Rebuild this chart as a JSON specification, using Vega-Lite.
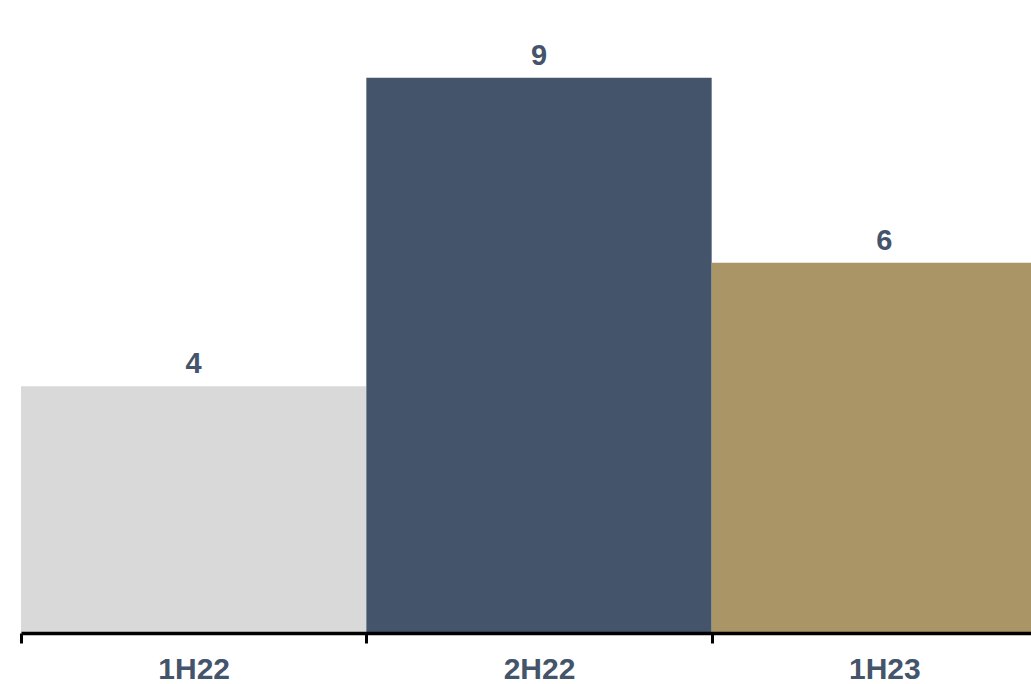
{
  "$schema": "https://vega.github.io/schema/vega-lite/v6.json",
  "autosize": {"type": "none"},
  "padding": {"left": 21, "top": 16, "right": 0, "bottom": 51},
  "width": 1036,
  "height": 617,
  "background": "white",
  "config": {
    "view": {"stroke": null},
    "font": "Liberation Sans"
  },
  "data": {
    "values": [
      {"period": "1H22", "value": 4, "color": "#d9d9d9"},
      {"period": "2H22", "value": 9, "color": "#44546a"},
      {"period": "1H23", "value": 6, "color": "#aa9566"}
    ]
  },
  "encoding": {
    "x": {
      "field": "period",
      "type": "nominal",
      "sort": null,
      "scale": {"paddingInner": 0, "paddingOuter": 0},
      "axis": {
        "title": null,
        "zindex": 1,
        "labelAngle": 0,
        "labelFont": "Liberation Sans",
        "labelFontSize": 30,
        "labelFontWeight": "bold",
        "labelColor": "#44546a",
        "labelPadding": 11,
        "domainColor": "#000000",
        "domainWidth": 3.5,
        "tickColor": "#000000",
        "tickWidth": 3,
        "tickSize": 10,
        "tickBand": "extent",
        "grid": false
      }
    },
    "y": {
      "field": "value",
      "type": "quantitative",
      "scale": {"domain": [0, 10], "nice": false},
      "axis": null
    }
  },
  "layer": [
    {
      "mark": {"type": "bar"},
      "encoding": {
        "color": {"field": "color", "type": "nominal", "scale": null, "legend": null}
      }
    },
    {
      "mark": {
        "type": "text",
        "baseline": "bottom",
        "dy": -7,
        "fontSize": 29,
        "fontWeight": "bold",
        "color": "#44546a",
        "font": "Liberation Sans"
      },
      "encoding": {
        "text": {"field": "value", "type": "quantitative", "format": "d"}
      }
    }
  ]
}
